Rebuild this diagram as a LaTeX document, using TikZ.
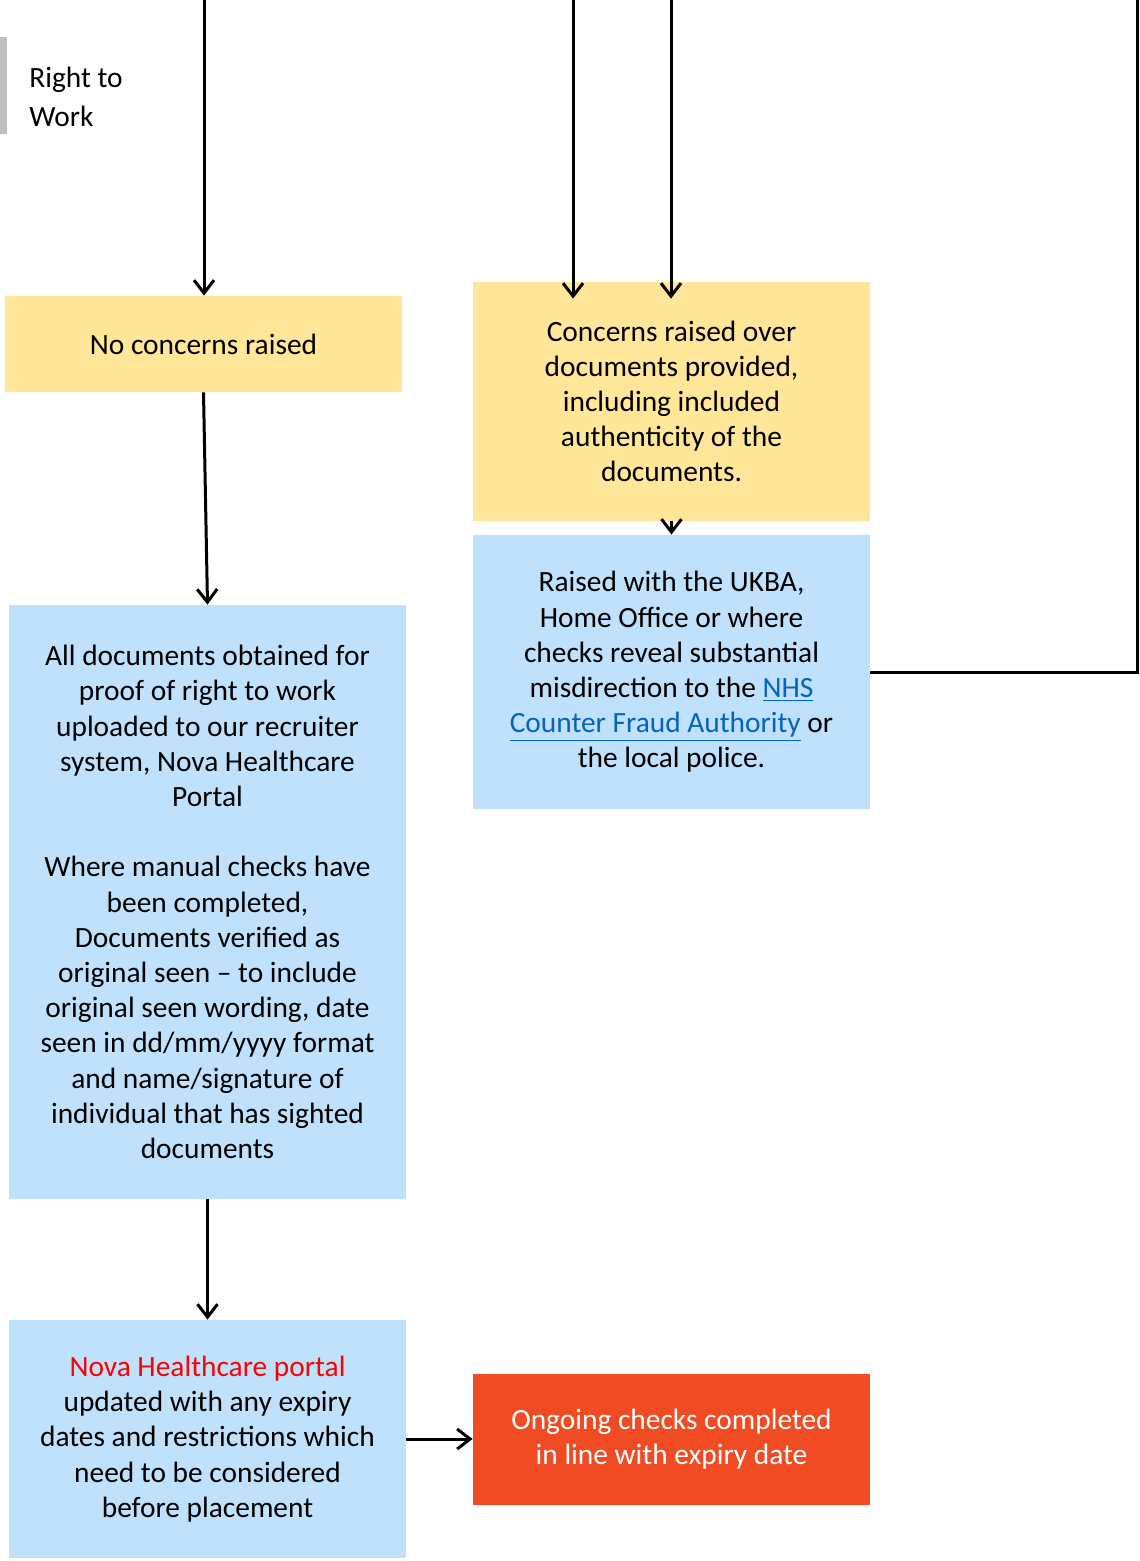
\documentclass[tikz,border=0pt]{standalone}
\usepackage{fontspec}
\setmainfont{Carlito}
\usetikzlibrary{arrows.meta}

\definecolor{boxyellow}{HTML}{FFE699}
\definecolor{boxblue}{HTML}{BFE1FB}
\definecolor{boxred}{HTML}{F14B24}
\definecolor{barGray}{HTML}{BFBFBF}
\definecolor{linkblue}{HTML}{0563C1}

\tikzset{
  stepbox/.style={rectangle, align=center, inner sep=0pt, minimum width=198.5pt,
    font=\fontsize{14.7}{17.6}\selectfont},
  yellowbox/.style={stepbox, fill=boxyellow},
  bluebox/.style={stepbox, fill=boxblue},
  redbox/.style={stepbox, fill=boxred, text=white},
  flow/.style={line width=1.5pt}
}
\newcommand{\weblink}[1]{\textcolor{linkblue}{\underline{#1}}}

\begin{document}
\begin{tikzpicture}[x=0.5pt, y=-0.5pt, >={Straight Barb[length=6.5pt,width=10pt,line width=1.5pt]}]
    \useasboundingbox (0,0) rectangle (1139,1561);

    %title with grey bar
    \fill[barGray] (0,37) rectangle (7,134);
    \node[anchor=west, align=left, inner sep=0pt, font=\fontsize{14.7}{19.3}\selectfont] (title) at (29,97) {Right to\\Work};

    %define the boxes
    \node[yellowbox, minimum height=48pt] (noconc) at (203.5,344) {No concerns raised};
    \node[yellowbox, minimum height=119.5pt] (conc) at (671.5,401.5)
      {Concerns raised over\\documents provided,\\including included\\authenticity of the\\documents.};
    \node[bluebox, minimum height=137pt] (ukba) at (671.5,672)
      {Raised with the UKBA,\\Home Office or where\\checks reveal substantial\\misdirection to the \weblink{NHS}\\\weblink{Counter Fraud Authority} or\\the local police.};
    \node[bluebox, minimum height=297pt] (docs) at (207.5,902)
      {All documents obtained for\\proof of right to work\\uploaded to our recruiter\\system, Nova Healthcare\\Portal\\[17.6pt]
       Where manual checks have\\been completed,\\Documents verified as\\original seen -- to include\\original seen wording, date\\seen in dd/mm/yyyy format\\and name/signature of\\individual that has sighted\\documents};
    \node[bluebox, minimum height=119pt] (portal) at (207.5,1439)
      {\textcolor{red}{Nova Healthcare portal}\\updated with any expiry\\dates and restrictions which\\need to be considered\\before placement};
    \node[redbox, minimum height=65.5pt] (ongoing) at (671.5,1439)
      {Ongoing checks completed\\in line with expiry date};

    %free ends at the top
    \coordinate (t1) at (204,0);
    \coordinate (t2) at (573,0);
    \coordinate (t3) at (671,0);
    \coordinate (tr) at (1137,0);

    % define the links
    \draw[flow,->] (t1) -- (noconc.north -| t1);
    \draw[flow,->,shorten >=-8.5pt] (t2) -- (conc.north -| t2);
    \draw[flow,->,shorten >=-8.5pt] (t3) -- (conc.north -| t3);
    \draw[flow,->] (noconc.south) -- (docs.north);
    \draw[flow,->] (conc.south) -- (ukba.north);
    \draw[flow,->] (docs.south) -- (portal.north);
    \draw[flow,->] (portal.east) -- (ongoing.west);
    \draw[flow] (ukba.east) -| (tr);
\end{tikzpicture}
\end{document}
